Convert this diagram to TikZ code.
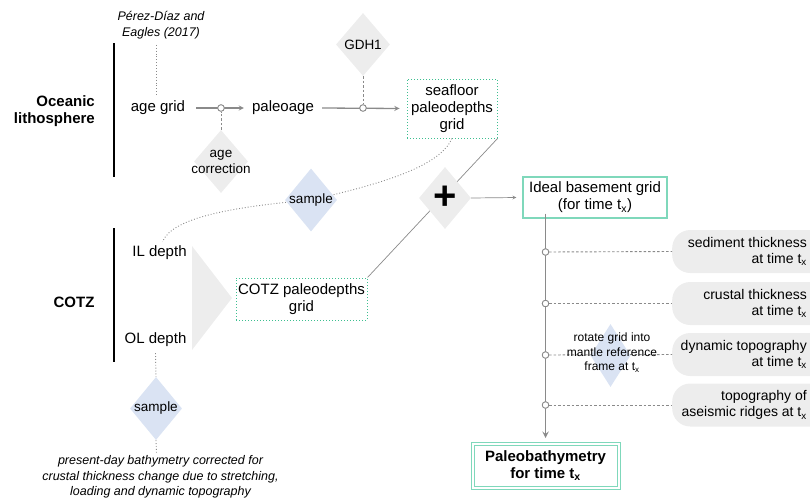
\documentclass[tikz,border=0pt]{standalone}
\usepackage{fontspec}
\setmainfont{Liberation Sans}
\usetikzlibrary{shapes.geometric, arrows, positioning, calc}

\definecolor{boxgreen}{HTML}{7FD8BB}
\definecolor{dotgreen}{HTML}{3DBF90}
\definecolor{diagray}{HTML}{EDEDED}
\definecolor{diablue}{HTML}{DAE3F3}
\definecolor{linegray}{HTML}{8A8A8A}

\tikzstyle{term} = [font=\fontsize{15}{17}\selectfont, align=center, inner sep=0pt]
\tikzstyle{group} = [font=\fontsize{15}{16.5}\selectfont\bfseries, align=right, inner sep=0pt]
\tikzstyle{source} = [font=\fontsize{12.5}{15.5}\selectfont\itshape, align=center, inner sep=0pt]
\tikzstyle{small} = [font=\fontsize{13.5}{16}\selectfont, align=center, inner sep=0pt]
\tikzstyle{tiny} = [font=\fontsize{12}{14.5}\selectfont, align=center, inner sep=0pt]
\tikzstyle{graydiamond} = [diamond, fill=diagray, inner sep=0pt, minimum width=54pt, minimum height=63pt]
\tikzstyle{bluediamond} = [diamond, fill=diablue, inner sep=0pt, minimum width=52pt, minimum height=63pt]
\tikzstyle{dotbox} = [rectangle, draw=dotgreen, dotted, line width=1pt, font=\fontsize{15}{17}\selectfont, align=center]
\tikzstyle{gridbox} = [rectangle, draw=boxgreen, line width=1.3pt, font=\fontsize{15}{17}\selectfont, align=center]
\tikzstyle{layerbox} = [rectangle, rounded corners=18pt, fill=diagray, minimum width=200pt, minimum height=43pt, anchor=west]
\tikzstyle{layer} = [font=\fontsize{14}{16.5}\selectfont, align=right, inner sep=0pt, anchor=east]
\tikzstyle{junction} = [circle, draw=linegray, fill=white, line width=0.8pt, inner sep=0pt, minimum size=6.5pt]
\tikzstyle{bar} = [black, line width=2pt]
\tikzstyle{arrow} = [linegray, line width=1.3pt, ->, >=stealth]
\tikzstyle{thinarrow} = [linegray, line width=0.7pt, ->, >=stealth]
\tikzstyle{hint} = [linegray, dotted, line width=0.9pt]
\tikzstyle{link} = [linegray, dash pattern=on 2.5pt off 2pt, line width=0.9pt]

\newcommand{\tx}{t\textsubscript{x}}

\begin{document}
\begin{tikzpicture}[x=1pt, y=-1pt]
\useasboundingbox (0,0) rectangle (810,498);

%%%%% OCEANIC LITHOSPHERE
\node (oceanic) [group, anchor=east] at (95,111) {Oceanic\\lithosphere};
\draw [bar] (114,43) -- (114,177);
\node (perez) [source] at (161,25) {Pérez-Díaz and\\Eagles (2017)};
\node (agegrid) [term] at (158,108) {age grid};
\node (paleoage) [term] at (283,108) {paleoage};
\node (seafloor) [dotbox, minimum width=90pt, minimum height=59pt, inner sep=1pt] at (452,108.5) {seafloor\\paleodepths\\grid};
\node (gdh) [graydiamond] at (363,44.5) {};
\node at (gdh) [small] {GDH1};
\node (agecorr) [graydiamond] at (221,161.5) {};
\node at (agecorr) [small] {age\\correction};
\node (j0) [junction] at (221,108) {};
\node (j00) [junction] at (363,108) {};

\draw [hint] (perez.south) ++(-5,6) -- ($(agegrid.north)+(-2,-4)$);
\draw [arrow] ($(agegrid.east)+(11,0)$) -- ($(paleoage.west)+(-8,0)$);
\draw [arrow] ($(paleoage.east)+(8,0)$) -- ($(seafloor.west)+(-7,0)$);
\draw [link] (agecorr.north) -- (j0);
\draw [link] (gdh.south) -- (j00);
\node at (j0) [junction] {};
\node at (j00) [junction] {};

%%%%% COTZ
\node (cotz) [group] at (74,302) {COTZ};
\draw [bar] (114,228) -- (114,362);
\node (il) [term] at (159.5,253) {IL depth};
\node (ol) [term] at (155.5,340) {OL depth};
\fill [diagray] (192,246) -- (232,298) -- (192,350) -- cycle;
\node (cotzgrid) [dotbox, minimum width=131pt, minimum height=42pt, inner sep=1pt] at (301.5,299) {COTZ paleodepths\\grid};
\node (bathy) [source] at (160.5,477) {present-day bathymetry corrected for\\crustal thickness change due to stretching,\\loading and dynamic topography};

% sampling the seafloor grid along the dotted curve
\draw [hint] (seafloor.south) .. controls (440,165) and (390,182) .. (311,200)
  .. controls (230,207) and (172,218) .. ($(il.north)+(3,-4)$);
\node (sample1) [bluediamond] at (311,200) {};
\node at (sample1) [small] {sample};

\node (sample2) [bluediamond] at (156,408.5) {};
\node at (sample2) [small] {sample};
\draw [hint] ($(ol.south)+(0,6)$) -- (sample2.north);
\draw [hint] (sample2.south) -- ($(bathy.north)+(-4,-2)$);

%%%%% COMBINING
\draw [linegray, line width=0.7pt] (cotzgrid.north east) -- (seafloor.south east);
\node (plus) [graydiamond, minimum width=52pt, minimum height=62pt] at (445,198) {};
\node at (plus) [font=\fontsize{40}{40}\selectfont\bfseries, inner sep=0pt] {+};
\node (ideal) [gridbox, minimum width=144pt, minimum height=41pt, inner sep=1pt] at (595,197.5) {Ideal basement grid\\(for time \tx)};
\draw [thinarrow] (plus.east) -- ($(ideal.west)+(-6,0)$);

%%%%% CORRECTIONS
\node (sedbox) [layerbox] at (672,251.5) {};
\node (sed) [layer] at ($(sedbox.west)+(135,0)$) {sediment thickness\\at time \tx};
\node (crustbox) [layerbox] at (672,303.5) {};
\node (crust) [layer] at ($(crustbox.west)+(135,0)$) {crustal thickness\\at time \tx};
\node (dynbox) [layerbox] at (672,354.5) {};
\node (dyn) [layer] at ($(dynbox.west)+(135,0)$) {dynamic topography\\at time \tx};
\node (ridgebox) [layerbox] at (672,405) {};
\node (ridge) [layer] at ($(ridgebox.west)+(135,0)$) {topography of\\aseismic ridges at \tx};

\node (paleo) [rectangle, draw=boxgreen, double=white, double distance=2pt, line width=1pt, minimum width=146pt, minimum height=44pt, font=\fontsize{15}{17.5}\selectfont\bfseries, align=center] at (545.5,465.5) {Paleobathymetry\\for time \tx};

\node (j1) [junction] at (545.5,252) {};
\node (j2) [junction] at (545.5,303.5) {};
\node (j3) [junction] at (545.5,355) {};
\node (j4) [junction] at (545.5,405) {};

\draw [linegray, line width=1.8pt, ->, >=stealth] (ideal.south -| j1) ++(0,-5) -- ($(paleo.north -| j1)+(0,-5)$);
\draw [link] (j1) -- (sedbox.west);
\draw [link] (j2) -- (crustbox.west);
\draw [link] (j3) -- (dynbox.west);
\draw [link] (j4) -- (ridgebox.west);

\node (rotate) [bluediamond, minimum width=40pt, minimum height=63pt] at (610.5,355.5) {};
\node at (612,353) [tiny] {rotate grid into\\mantle reference\\frame at \tx};

\node at (j1) [junction] {};
\node at (j2) [junction] {};
\node at (j3) [junction] {};
\node at (j4) [junction] {};
\end{tikzpicture}
\end{document}
